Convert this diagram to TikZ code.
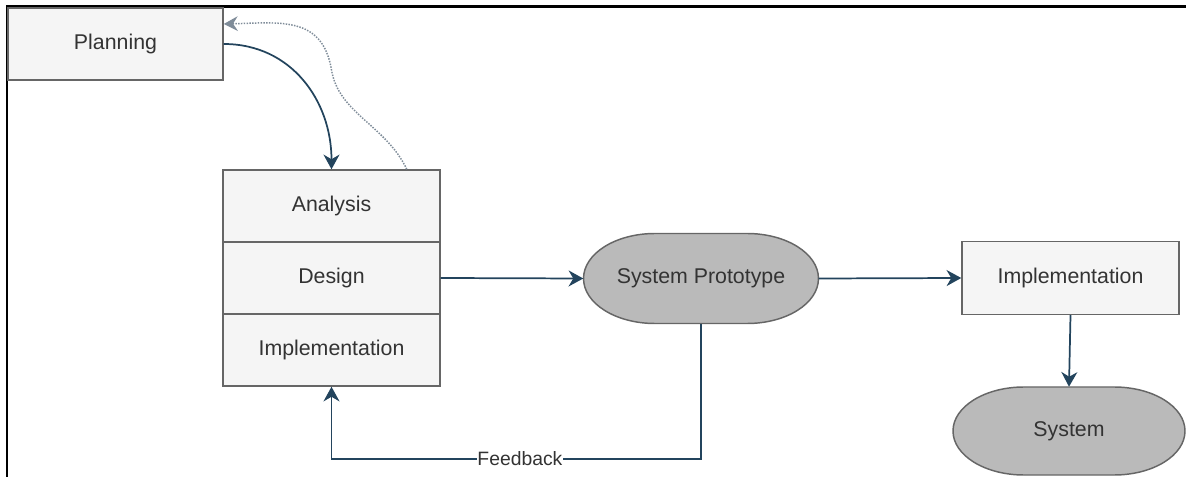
\documentclass[tikz,border=0pt]{standalone}
\usepackage{fontspec}
\setmainfont{Liberation Sans}
\usetikzlibrary{arrows.meta,calc}
\definecolor{boxfill}{HTML}{F5F5F5}
\definecolor{boxline}{HTML}{666666}
\definecolor{ovalfill}{HTML}{BABABA}
\definecolor{txt}{HTML}{333333}
\definecolor{flow}{HTML}{23445D}
\definecolor{backflow}{HTML}{7F8C99}
\tikzset{
  stepbox/.style={draw=boxline, fill=boxfill, line width=1.1pt, rectangle,
    minimum width=162.75pt, minimum height=54pt, inner sep=0pt,
    text=txt, font=\fontsize{16pt}{19pt}\selectfont},
  ovalline/.style={draw=boxline, fill=ovalfill, line width=1.1pt},
  ovaltext/.style={rectangle, inner sep=0pt, text=txt,
    font=\fontsize{16pt}{19pt}\selectfont},
  flowarrow/.style={draw=flow, line width=1.3pt,
    -{Stealth[length=11pt,width=12pt,inset=3.5pt]}},
  backarrow/.style={draw=backflow, line width=1.1pt, densely dotted,
    -{Stealth[length=10.5pt,width=11pt,inset=3.5pt]}},
  frame/.style={draw=black, line width=1.6pt}
}
% oval with a flat top and bottom and half-ellipse ends
% #1 name, #2 centre, #3 half flat length, #4 end x radius, #5 y radius, #6 text
\newcommand\ovalnode[6]{%
  \path[ovalline] ([xshift=-#3, yshift=#5]#2) -- ([xshift=#3, yshift=#5]#2)
    arc[start angle=90, end angle=-90, x radius=#4, y radius=#5]
    -- ([xshift=-#3, yshift=-#5]#2)
    arc[start angle=270, end angle=90, x radius=#4, y radius=#5] -- cycle;
  \node[ovaltext, minimum width={2*(#3+#4)}, minimum height={2*#5}] (#1) at (#2) {#6};
}
\begin{document}
\begin{tikzpicture}[x=0.75pt, y=-0.75pt]
  \useasboundingbox (0,0) rectangle (1186,477);
  % outer frame (top and left edges)
  \coordinate (frTL) at (7,6.5);
  \coordinate (frTR) at (1186,6.5);
  \coordinate (frBL) at (7,477);
  \draw[frame] (frTR) -- (frTL) -- (frBL);

  % process boxes
  \node[stepbox, minimum width=161.25pt] (plan) at (115.5,44) {Planning};
  \node[stepbox] (an) at (331.5,206) {Analysis};
  \node[stepbox] (de) at (331.5,278) {Design};
  \node[stepbox] (im) at (331.5,350) {Implementation};
  \node[stepbox, minimum height=54.75pt] (impl) at (1070.5,278) {Implementation};

  % results
  \coordinate (protoC) at (701,278.5);
  \ovalnode{proto}{protoC}{34.5pt}{53.6pt}{33.75pt}{System Prototype}
  \coordinate (sysC) at (1069,431);
  \ovalnode{sys}{sysC}{33.75pt}{53.25pt}{33pt}{System}

  % connectors
  \draw[flowarrow] (plan.east) to[out=0, in=90, looseness=1.05] (an.north);
  \draw[backarrow] ([xshift=-25.5pt]an.north east)
    .. controls ([xshift=-41pt,yshift=33pt]an.north east) and ([xshift=-77pt,yshift=42pt]an.north east)
    .. ([xshift=-82pt,yshift=75pt]an.north east)
    .. controls ([xshift=-89pt,yshift=115pt]an.north east) and ([xshift=-120pt,yshift=110pt]an.north east)
    .. ([yshift=15pt]plan.east);
  \draw[flowarrow] (de.east) -- (proto.west);
  \draw[flowarrow] (proto.east) -- (impl.west);
  \draw[flowarrow] (impl.south) -- (sys.north);

  \coordinate (fbR) at (701,459);
  \coordinate (fbL) at (331.5,459);
  \draw[flowarrow] (proto.south) -- (fbR)
    -- node[fill=white, inner sep=0.5pt, text=txt, font=\fontsize{14.5pt}{17pt}\selectfont, pos=0.49] {Feedback} (fbL)
    -- (im.south);
\end{tikzpicture}
\end{document}
